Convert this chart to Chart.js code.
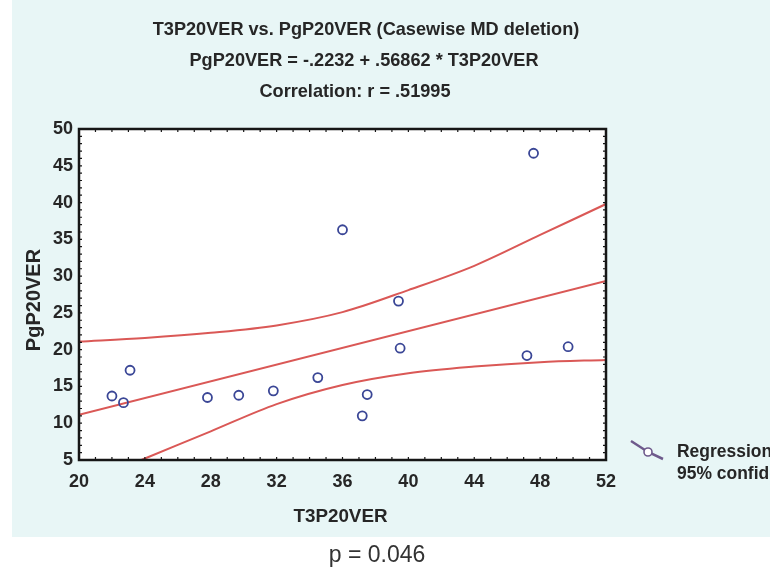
<!DOCTYPE html>
<html>
<head>
<meta charset="utf-8">
<script src="https://cdn.jsdelivr.net/npm/chart.js@4"></script>
<style>
  html, body { margin: 0; padding: 0; background: #fff; overflow: hidden; }
  #wrap { width: 770px; height: 574px; position: relative; }
</style>
</head>
<body>
<div id="wrap"><canvas id="scatter-chart"></canvas></div>
<script>
// observed cases
const t3Values = [22.0, 22.7, 23.1, 27.8, 29.7, 31.8, 34.5, 36.0, 37.2, 37.5, 39.4, 39.5, 47.2, 47.6, 49.7];
const pgValues = [13.7, 12.8, 17.2, 13.5, 13.8, 14.4, 16.2, 36.3, 11.0, 13.9, 26.6, 20.2, 19.2, 46.7, 20.4];

// fitted line and 95% band
const regX = [20, 52];
const regY = [11.15, 29.35];
const bandX = [20, 24, 28, 32, 36, 40, 44, 48, 52];
const upperBand = [21.1, 21.6, 22.3, 23.3, 25.1, 28.1, 31.4, 35.6, 39.8];
const lowerBand = [1.5, 5.2, 8.9, 12.6, 15.2, 16.8, 17.7, 18.3, 18.6];

const xTicks = [20, 24, 28, 32, 36, 40, 44, 48, 52];
const yTicks = [5, 10, 15, 20, 25, 30, 35, 40, 45, 50];

const titleLines = [
    'T3P20VER vs. PgP20VER (Casewise MD deletion)',
    'PgP20VER = -.2232 + .56862 * T3P20VER',
    'Correlation: r = .51995',
];
const xTitle = 'T3P20VER';
const yTitle = 'PgP20VER';
const pLabel = 'p = 0.046';
const legendLabels = ['Regression', '95% confidence'];

const sans = '"Liberation Sans", Arial, sans-serif';
const textDark = '#262626';
const lineRed = 'rgb(218, 88, 86)';
const dotBlue = 'rgb(58, 70, 150)';

const toPoints = (xs, ys) => xs.map((x, i) => ({ x, y: ys[i] }));

// text squeezed a little to imitate the narrow face of the original
function squeezed(ctx, text, x, y, sx) {
    ctx.save();
    ctx.translate(x, y);
    ctx.scale(sx, 1);
    ctx.fillText(text, 0, 0);
    ctx.restore();
}

const decorPlugin = {
    id: 'decor',
    beforeDraw(chart) {
        const { ctx, chartArea: a } = chart;
        ctx.save();
        ctx.fillStyle = '#ffffff';
        ctx.fillRect(0, 0, chart.width, chart.height);
        ctx.fillStyle = '#e8f6f6';
        ctx.fillRect(12, 0, chart.width - 12, 537);
        ctx.fillStyle = '#ffffff';
        ctx.fillRect(a.left, a.top, a.right - a.left, a.bottom - a.top);
        ctx.restore();
    },
    afterDatasetsDraw(chart) {
        const { ctx, chartArea: a, scales } = chart;
        ctx.save();
        ctx.strokeStyle = '#161616';
        ctx.lineWidth = 1.2;
        // small inward ticks on every side of the frame
        for (let v = 21; v < 52; v++) {
            const px = scales.x.getPixelForValue(v);
            ctx.beginPath();
            ctx.moveTo(px, a.top); ctx.lineTo(px, a.top + 3);
            ctx.moveTo(px, a.bottom); ctx.lineTo(px, a.bottom - 3);
            ctx.stroke();
        }
        for (let v = 6; v < 50; v++) {
            const py = scales.y.getPixelForValue(v);
            ctx.beginPath();
            ctx.moveTo(a.left, py); ctx.lineTo(a.left + 3, py);
            ctx.moveTo(a.right, py); ctx.lineTo(a.right - 3, py);
            ctx.stroke();
        }
        ctx.lineWidth = 2.5;
        ctx.strokeRect(a.left, a.top, a.right - a.left, a.bottom - a.top);
        ctx.restore();
    },
    afterDraw(chart) {
        const { ctx, chartArea: a } = chart;
        ctx.save();
        ctx.fillStyle = textDark;
        ctx.textAlign = 'center';
        ctx.textBaseline = 'middle';
        ctx.font = `bold 19px ${sans}`;
        const titleX = [366, 364, 355];
        titleLines.forEach((line, i) => squeezed(ctx, line, titleX[i], 30 + i * 31, 0.955));

        // axis titles
        ctx.font = `bold 19px ${sans}`;
        squeezed(ctx, xTitle, (a.left + a.right) / 2 - 2, 517, 0.99);
        ctx.save();
        ctx.translate(34, 300);
        ctx.rotate(-Math.PI / 2);
        ctx.font = `bold 20px ${sans}`;
        ctx.fillText(yTitle, 0, 0);
        ctx.restore();

        ctx.font = `23px ${sans}`;
        ctx.fillStyle = '#333';
        ctx.fillText(pLabel, 377, 556);

        // legend, cut by the page edge as in the original
        ctx.strokeStyle = 'rgb(110, 90, 140)';
        ctx.lineWidth = 2.5;
        ctx.beginPath();
        ctx.moveTo(631, 441);
        ctx.lineTo(648, 452);
        ctx.lineTo(663, 459);
        ctx.stroke();
        ctx.beginPath();
        ctx.arc(648, 452, 4, 0, Math.PI * 2);
        ctx.fillStyle = '#fff';
        ctx.fill();
        ctx.lineWidth = 1.6;
        ctx.stroke();

        ctx.fillStyle = textDark;
        ctx.textAlign = 'left';
        ctx.font = `bold 18px ${sans}`;
        squeezed(ctx, legendLabels[0], 677, 452, 0.97);
        squeezed(ctx, legendLabels[1], 677, 474, 0.97);
        ctx.restore();
    },
};

new Chart(document.getElementById('scatter-chart'), {
    type: 'scatter',
    data: {
        datasets: [
            {
                label: 'Cases',
                data: toPoints(t3Values, pgValues),
                pointStyle: 'circle',
                pointRadius: 4.5,
                pointBorderWidth: 1.8,
                pointBorderColor: dotBlue,
                pointBackgroundColor: 'rgba(0,0,0,0)',
                order: 0,
            },
            {
                type: 'line',
                label: legendLabels[0],
                data: toPoints(regX, regY),
                borderColor: lineRed,
                borderWidth: 2,
                pointRadius: 0,
                order: 1,
            },
            {
                type: 'line',
                label: 'Upper 95%',
                data: toPoints(bandX, upperBand),
                borderColor: lineRed,
                borderWidth: 2,
                pointRadius: 0,
                cubicInterpolationMode: 'monotone',
                order: 1,
            },
            {
                type: 'line',
                label: 'Lower 95%',
                data: toPoints(bandX, lowerBand),
                borderColor: lineRed,
                borderWidth: 2,
                pointRadius: 0,
                cubicInterpolationMode: 'monotone',
                order: 1,
            },
        ],
    },
    options: {
        responsive: true,
        maintainAspectRatio: false,
        animation: false,
        events: [],
        layout: {
            padding: { top: 129, left: 22, right: 164, bottom: 45 },
        },
        plugins: {
            legend: { display: false },
            tooltip: { enabled: false },
            title: { display: false },
        },
        scales: {
            x: {
                type: 'linear',
                min: 20,
                max: 52,
                afterBuildTicks: (scale) => {
                    scale.ticks = xTicks.map((value) => ({ value }));
                },
                afterFit: (scale) => { scale.height = 69; },
                grid: { display: false, drawTicks: false },
                border: { display: false },
                ticks: {
                    padding: 11,
                    color: textDark,
                    font: { family: sans, size: 18, weight: 'bold' },
                },
            },
            y: {
                type: 'linear',
                min: 5,
                max: 50,
                afterBuildTicks: (scale) => {
                    scale.ticks = yTicks.map((value) => ({ value }));
                },
                afterFit: (scale) => { scale.width = 57; },
                grid: { display: false, drawTicks: false },
                border: { display: false },
                ticks: {
                    padding: 6,
                    color: textDark,
                    font: { family: sans, size: 18, weight: 'bold' },
                },
            },
        },
    },
    plugins: [decorPlugin],
});
</script>
</body>
</html>
